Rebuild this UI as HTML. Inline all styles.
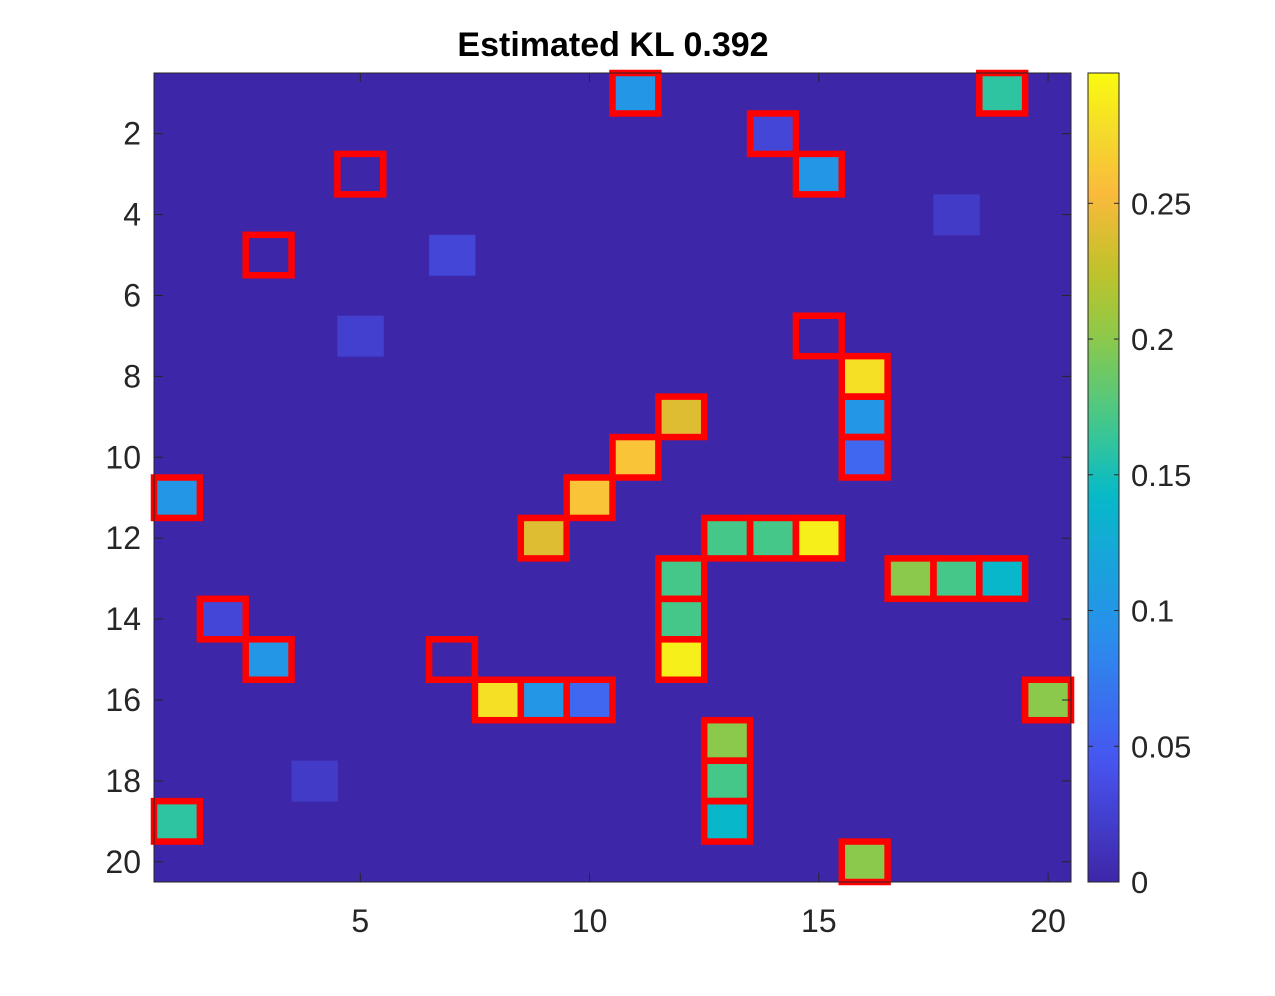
<!DOCTYPE html>
<html><head><meta charset="utf-8"><style>
body{margin:0;background:#fff;}
svg text{font-family:"Liberation Sans",Arial,sans-serif;fill:#262626;}
</style></head><body>
<svg id="c" width="1275" height="991" xmlns="http://www.w3.org/2000/svg">
<text x="613" y="56" text-anchor="middle" font-size="34" font-weight="bold" style="fill:#000">Estimated KL 0.392</text>
<g id="plot"></g>
</svg>
<script>
// cells: row, column, value, boxed
const cellRows = [1,1,2,3,3,4,5,5,7,7,8,9,9,10,10,11,11,12,12,12,12,13,13,13,13,14,14,15,15,15,16,16,16,16,17,18,18,19,19,20];
const cellCols = [11,19,14,5,15,18,3,7,5,15,16,12,16,11,16,1,10,9,13,14,15,12,17,18,19,2,12,3,7,12,8,9,10,20,13,4,13,1,13,16];
const cellVals = [0.10,0.16,0.03,0,0.10,0.02,0,0.03,0.025,0,0.28,0.24,0.10,0.26,0.06,0.10,0.26,0.24,0.17,0.17,0.29,0.17,0.20,0.17,0.14,0.03,0.17,0.10,0,0.29,0.28,0.10,0.06,0.20,0.20,0.02,0.17,0.16,0.14,0.20];
const cellBoxed = [1,1,1,1,1,0,1,0,0,1,1,1,1,1,1,1,1,1,1,1,1,1,1,1,1,1,1,1,1,1,1,1,1,1,1,0,1,1,1,1];
const xTicks = [5,10,15,20];
const yTicks = [2,4,6,8,10,12,14,16,18,20];
const cbTicks = [0,0.05,0.1,0.15,0.2,0.25];
const cMax = 0.298;

const X0=154,X1=1071,Y0=73,Y1=882,N=20;
const cw=(X1-X0)/N, ch=(Y1-Y0)/N;
const xs=c=>X0+(c-0.5)*cw, ys=r=>Y0+(r-0.5)*ch;
const stops=[[0,[62,38,168]],[0.15,[71,85,240]],[0.3,[42,141,236]],[0.4,[23,165,218]],[0.48,[6,186,200]],[0.56,[62,199,145]],[0.68,[145,201,70]],[0.76,[195,193,42]],[0.85,[250,186,60]],[0.93,[245,220,42]],[1,[249,251,14]]];
function parula(t){t=Math.max(0,Math.min(1,t));for(let i=1;i<stops.length;i++){if(t<=stops[i][0]){const a=stops[i-1],b=stops[i],f=(t-a[0])/(b[0]-a[0]);return 'rgb('+a[1].map((v,k)=>Math.round(v+(b[1][k]-v)*f)).join(',')+')';}}}
const NS='http://www.w3.org/2000/svg', g=document.getElementById('plot');
function el(t,a,p){const e=document.createElementNS(NS,t);for(const k in a)e.setAttribute(k,a[k]);(p||g).appendChild(e);return e;}
let bg=el('rect',{x:X0,y:Y0,width:X1-X0,height:Y1-Y0,fill:parula(0)});


for(let i=0;i<cellRows.length;i++){
 let r=el('rect',{x:xs(cellCols[i])-cw/2,y:ys(cellRows[i])-ch/2,width:cw+0.5,height:ch+0.5,fill:parula(cellVals[i]/cMax)});
 
 
}
for(let i=0;i<cellRows.length;i++){ if(!cellBoxed[i])continue;
 let b=el('rect',{x:xs(cellCols[i])-cw/2,y:ys(cellRows[i])-ch/2,width:cw,height:ch,fill:'none',stroke:'#ff0000','stroke-width':6.5});
 
 
}
let fr=el('rect',{x:X0,y:Y0,width:X1-X0,height:Y1-Y0,fill:'none',stroke:'#262626','stroke-width':1});


xTicks.forEach(v=>{const x=xs(v);
 el('line',{x1:x,x2:x,y1:Y1,y2:Y1-9,stroke:'#262626'});el('line',{x1:x,x2:x,y1:Y0,y2:Y0+9,stroke:'#262626'});
 let t=el('text',{x:x,y:932,'text-anchor':'middle','font-size':32});t.textContent=v;
 
 
});
yTicks.forEach(v=>{const y=ys(v);
 el('line',{x1:X0,x2:X0+9,y1:y,y2:y,stroke:'#262626'});el('line',{x1:X1,x2:X1-9,y1:y,y2:y,stroke:'#262626'});
 let t=el('text',{x:141,y:y+11,'text-anchor':'end','font-size':32});t.textContent=v;
 
 
});
// colorbar
const CX0=1088,CX1=1119;
const grad=el('linearGradient',{id:'pg',x1:0,y1:1,x2:0,y2:0},el('defs',{}));
for(let i=0;i<=40;i++)el('stop',{offset:i/40,'stop-color':parula(i/40)},grad);
let cb=el('rect',{x:CX0,y:Y0,width:CX1-CX0,height:Y1-Y0,fill:'url(#pg)',stroke:'#262626','stroke-width':1});


cbTicks.forEach(v=>{const y=Y1-(v/cMax)*(Y1-Y0);
 el('line',{x1:CX0,x2:CX0+5,y1:y,y2:y,stroke:'#262626'});el('line',{x1:CX1,x2:CX1-5,y1:y,y2:y,stroke:'#262626'});
 let t=el('text',{x:1131,y:y+11,'font-size':31});t.textContent=v;
 
 
});
</script>
</body></html>
